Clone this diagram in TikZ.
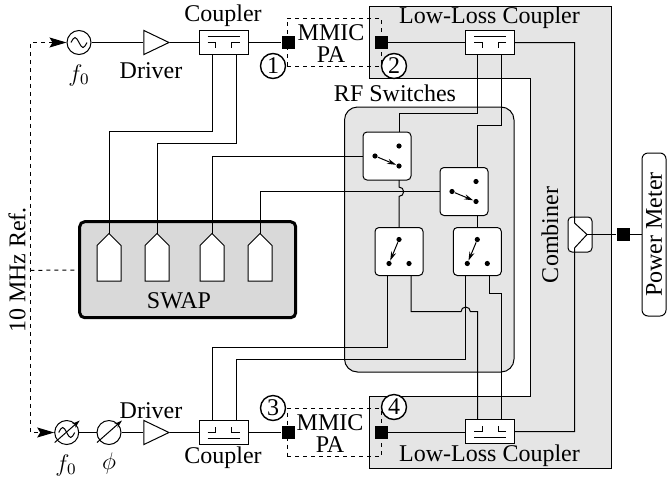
\documentclass[tikz,border=0pt]{standalone}
\usepackage{fontspec}
\setmainfont{Liberation Serif}
\usepackage{tikz}
\usetikzlibrary{arrows.meta, shapes.geometric}
\tikzset{
  lbl/.style={inner sep=0, font=\fontsize{12}{14}\selectfont},
  src/.style={draw, circle, fill=white, minimum size=12pt, inner sep=0},
  amp/.style={draw, isosceles triangle, isosceles triangle stretches, fill=white, minimum width=12pt, minimum height=12.5pt, inner sep=0},
  cpl/.style={draw, fill=white, minimum width=24.5pt, minimum height=12pt, inner sep=0},
  pad/.style={fill=black, minimum size=6.5pt, inner sep=0},
  num/.style={draw, circle, fill=white, line width=0.7pt, minimum size=12.5pt, inner sep=0, font=\fontsize{12}{14}\selectfont},
  pabox/.style={draw, dashed, dash pattern=on 2pt off 2pt, minimum width=47pt, minimum height=24pt, inner sep=0},
  sw/.style={draw, fill=white, rounded corners=2pt, minimum size=24pt, inner sep=0},
  dot/.style={circle, fill=black, minimum size=2.6pt, inner sep=0},
  swarr/.style={-{Stealth[length=4.5pt,width=2.6pt]}},
  refl/.style={dashed, dash pattern=on 2pt off 2pt},
  reftip/.style={{Stealth[length=8.5pt,width=5pt,inset=1.5pt]}-{Stealth[length=8.5pt,width=5pt,inset=1.5pt]}},
  tune/.style={-{Stealth[length=4pt,width=2.5pt]}}
}
\begin{document}
\begin{tikzpicture}[x=0.5pt, y=-0.5pt, line width=0.5pt]
  \useasboundingbox (0,0) rectangle (667,477);

  \draw[fill=black!10] (369,6) -- (611,6) -- (611,468) -- (369,468) -- (369,396) -- (530,396) -- (530,78) -- (369,78) -- cycle;
  \draw[fill=black!10, rounded corners=6.5pt] (344.5,107) rectangle (514,372);
  \node[lbl] (rftxt) at (395,93) {RF Switches};
  \node[lbl] (lltxtA) at (489.5,18) {Low-Loss Coupler};
  \node[lbl] (lltxtB) at (489.5,456) {Low-Loss Coupler};
  \node[lbl, rotate=90] (cmbtxt) at (550,235) {Combiner};
  \node[lbl, rotate=90] (reftxt) at (17,270) {10 MHz Ref.};

  \node[pabox] (paA) at (334,42) {};
  \node[pabox] (paB) at (334,432.5) {};
  \node[lbl] (paAa) at (331,33) {MMIC};
  \node[lbl] (paAb) at (331,55) {PA};
  \node[lbl] (paBa) at (330,423) {MMIC};
  \node[lbl] (paBb) at (330,445) {PA};

  \node[draw, fill=black!15, line width=1.5pt, rounded corners=2.5pt, minimum width=108pt, minimum height=48pt, inner sep=0] (swap) at (187.7,269.7) {};
  \node[lbl] (swaptxt) at (179,300.5) {SWAP};
  \foreach \x/\n in {109/a,157/b,212/c,260/d} {
    \draw[fill=white] (\x-12,281) -- (\x-12,245.5) -- (\x,233.5) -- (\x+12,245.5) -- (\x+12,281) -- cycle;
    \coordinate (port\n) at (\x,233.5);
  }

  \node[src] (srcA) at (79,42.5) {};
  \node[src] (srcB) at (66.7,432.5) {};
  \node[src] (phs) at (109,432.5) {};
  \node[amp] (drvA) at (151.5,42.5) {};
  \node[amp] (drvB) at (151.5,432.5) {};
  \node[cpl] (cplA) at (223.5,42.5) {};
  \node[cpl] (cplB) at (223.5,432.5) {};
  \node[cpl] (llcA) at (490,42.5) {};
  \node[cpl] (llcB) at (490,431.5) {};
  \foreach \n/\s in {cplA/1,llcA/1,cplB/-1,llcB/-1} {
    \draw[shift={(\n)}] (-16,-6*\s) -- (16,-6*\s);
    \draw[shift={(\n)}] (-16,0) -- (-8,0) -- (-8,5.5*\s);
    \draw[shift={(\n)}] (16,0) -- (8,0) -- (8,5.5*\s);
  }
  \draw[shift={(srcA)}] (-8,0) sin (-4,-5) cos (0,0) sin (4,5) cos (8,0);
  \draw[shift={(srcB)}] (-8,0) sin (-4,-5) cos (0,0) sin (4,5) cos (8,0);
  \draw[tune, shift={(srcB)}] (-12,10) -- (13,-12);
  \draw[tune, shift={(phs)}] (-12,10) -- (13,-12);

  \node[lbl] (fA) at (79,75) {$f_0$};
  \node[lbl] (fB) at (66,465) {$f_0$};
  \node[lbl] (phtxt) at (109,463) {$\phi$};
  \node[lbl] (drvtxtA) at (151,71) {Driver};
  \node[lbl] (drvtxtB) at (151,411) {Driver};
  \node[lbl] (cpltxtA) at (223,16) {Coupler};
  \node[lbl] (cpltxtB) at (223,458) {Coupler};

  \node[pad] (padA) at (288,42.5) {};
  \node[pad] (padB) at (381,42.5) {};
  \node[pad] (padC) at (288,432.5) {};
  \node[pad] (padD) at (381,432.5) {};
  \node[pad] (padE) at (623,234.5) {};
  \node[num] (numA) at (273,66) {1};
  \node[num] (numB) at (394,66) {2};
  \node[num] (numC) at (273,408) {3};
  \node[num] (numD) at (394,407) {4};

  \foreach \n/\x/\y in {A/387/156,B/464/191.5} {
    \node[sw] (sw\n) at (\x,\y) {};
    \node[dot] (dot\n a) at (\x+12,\y-10) {};
    \node[dot] (dot\n b) at (\x+12,\y+10) {};
    \node[dot] (dot\n c) at (\x-12,\y) {};
    \draw[swarr] (dot\n c) -- (dot\n b);
  }
  \foreach \n/\x/\y in {C/399/251.5,D/477.3/251.5} {
    \node[sw] (sw\n) at (\x,\y) {};
    \node[dot] (dot\n a) at (\x,\y-12) {};
    \node[dot] (dot\n b) at (\x-10,\y+12) {};
    \node[dot] (dot\n c) at (\x+10,\y+12) {};
    \draw[swarr] (dot\n a) -- (dot\n b);
  }

  \node[draw, fill=white, rounded corners=2pt, minimum width=12pt, minimum height=17.5pt, inner sep=0] (cmb) at (580,234.5) {};
  \coordinate (cmbin) at (574.5,223);
  \coordinate (cmbout) at (587,234.5);
  \coordinate (cmbmid) at (574.5,248);
  \node[lbl, draw, fill=white, rotate=90, rounded corners=3pt, minimum width=81.5pt, minimum height=12pt] (pwr) at (654,234.5) {Power Meter};

  \draw (srcA) -- (drvA);
  \draw (drvA) -- (cplA);
  \draw (cplA) -- (padA);
  \draw (padB) -- (llcA);
  \draw (srcB) -- (phs);
  \draw (phs) -- (drvB);
  \draw (drvB) -- (cplB);
  \draw (cplB) -- (padC);
  \draw (padD) -- (llcB.west |- padD);
  \draw (llcA) -| (cmbin) -- (cmbout) -- (cmbmid) |- (llcB);
  \draw (cmbout) -- (padE);
  \draw (padE) -- (pwr);

  \coordinate (refmid) at (30.3,270.3);
  \draw[refl, reftip] (srcA) -| (refmid) |- (srcB);
  \draw[refl] (refmid) -- (swap);

  \coordinate (cplAa) at (212,54);
  \coordinate (cplAb) at (236,54);
  \coordinate (cplBa) at (212,420);
  \coordinate (cplBb) at (236,420);
  \coordinate (llcAa) at (477.7,54);
  \coordinate (llcAb) at (501.7,54);
  \coordinate (llcBa) at (477.7,419.5);
  \coordinate (llcBb) at (501.7,419.5);
  \coordinate (swAn) at (399,132);
  \coordinate (swAs) at (399,180);
  \coordinate (swCa) at (387,275.5);
  \coordinate (swCb) at (411,275.5);
  \coordinate (swDa) at (465.7,275.5);
  \coordinate (swDb) at (489.7,275.5);

  \draw (cplAa) -- (212,131) -| (porta);
  \draw (cplAb) -- (236,143.7) -| (portb);
  \draw (swA.west) -| (portc);
  \draw (swB.west) -| (portd);
  \draw (cplBa) -- (212,347.7) -| (swCa);
  \draw (cplBb) -- (236,359.3) -| (swDa);
  \draw (llcAa) -- (477.7,113.5) -| (swAn);
  \draw (llcAb) -- (501.7,125.5) -| (swB.north -| llcAa);
  \draw (swAs) -- (399,187) arc[start angle=-90, end angle=90, radius=4.7] -- (swC.north);
  \draw (swB.south -| swD.north) -- (swD.north);
  \draw (swCb) -- (411,311.7) -- (461,311.7) arc[start angle=180, end angle=360, radius=4.7] -- (477.7,311.7) -- (llcBa);
  \draw (swDb) -- (489.7,293.3) -- (501.7,293.3) -- (llcBb);
\end{tikzpicture}
\end{document}
